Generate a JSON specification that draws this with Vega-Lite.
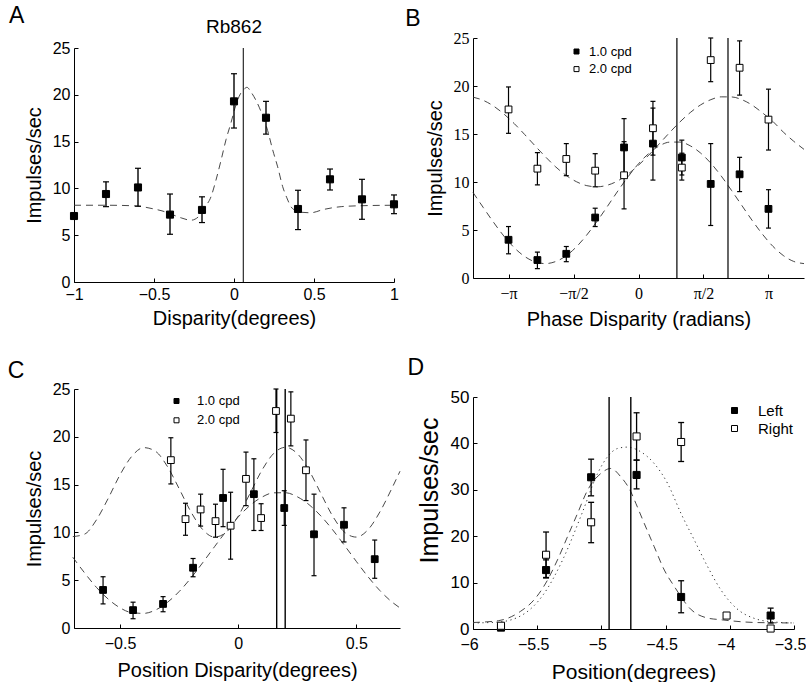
{
  "$schema": "https://vega.github.io/schema/vega-lite/v6.json",
  "background": "white",
  "padding": {"left": 7, "top": 5, "right": 0, "bottom": 0},
  "config": {
    "view": {"stroke": null},
    "axis": {"domainColor": "black", "domainWidth": 1, "tickColor": "black", "tickWidth": 1, "tickSize": -4, "labelPadding": 8, "labelColor": "black", "labelFont": "Liberation Sans", "labelFontSize": 16, "titleFont": "Liberation Sans", "titleFontSize": 20, "titleFontWeight": "normal", "titleColor": "black", "grid": false, "labelFlush": false, "labelOverlap": false},
    "axisX": {"titlePadding": 6},
    "axisY": {"titlePadding": 8},
    "text": {"font": "Liberation Sans", "color": "black"},
    "legend": {"labelFont": "Liberation Sans", "labelColor": "black", "padding": 0}
  },
  "datasets": {
    "one": [{"k": 1}],
    "a_pts": [
      {"x": -1, "y": 7.05, "lo": 7.05, "hi": 7.05},
      {"x": -0.8, "y": 9.4, "lo": 8.05, "hi": 10.7},
      {"x": -0.6, "y": 10.1, "lo": 8.1, "hi": 12.15},
      {"x": -0.4, "y": 7.2, "lo": 5.1, "hi": 9.4},
      {"x": -0.2, "y": 7.7, "lo": 6.35, "hi": 9.1},
      {"x": 0, "y": 19.3, "lo": 16.45, "hi": 22.25},
      {"x": 0.2, "y": 17.55, "lo": 15.8, "hi": 19.3},
      {"x": 0.4, "y": 7.8, "lo": 5.6, "hi": 9.8},
      {"x": 0.6, "y": 10.97, "lo": 9.83, "hi": 12.07},
      {"x": 0.8, "y": 8.83, "lo": 6.7, "hi": 10.97},
      {"x": 1, "y": 8.3, "lo": 7.3, "hi": 9.3}
    ],
    "a_fit": [
      {"x": -1, "y": 8.2}, {"x": -0.9, "y": 8.2}, {"x": -0.8, "y": 8.2}, {"x": -0.7, "y": 8.18}, {"x": -0.6, "y": 8.1},
      {"x": -0.5, "y": 7.8}, {"x": -0.45, "y": 7.6}, {"x": -0.4, "y": 7.3}, {"x": -0.33, "y": 6.85}, {"x": -0.27, "y": 6.6},
      {"x": -0.22, "y": 7.0}, {"x": -0.186, "y": 7.9}, {"x": -0.144, "y": 9.1}, {"x": -0.1125, "y": 10.9}, {"x": -0.081, "y": 13.0},
      {"x": -0.05, "y": 15.2}, {"x": -0.019, "y": 17.0}, {"x": 0.01, "y": 18.8}, {"x": 0.04, "y": 20.1}, {"x": 0.058, "y": 20.5},
      {"x": 0.081, "y": 20.8}, {"x": 0.106, "y": 20.3}, {"x": 0.1375, "y": 19.4}, {"x": 0.169, "y": 18.2}, {"x": 0.21, "y": 16.2},
      {"x": 0.242, "y": 14.1}, {"x": 0.273, "y": 12.3}, {"x": 0.304, "y": 10.2}, {"x": 0.33, "y": 9.0}, {"x": 0.356, "y": 8.05},
      {"x": 0.39, "y": 7.6}, {"x": 0.42, "y": 7.45}, {"x": 0.48, "y": 7.4}, {"x": 0.56, "y": 7.75}, {"x": 0.67, "y": 8.05},
      {"x": 0.8, "y": 8.15}, {"x": 1.0, "y": 8.2}
    ],
    "a_vl": [{"x": 0.058}],
    "b_pts": [
      {"s": "1.0 cpd", "x": -3.1416, "y": 3.98, "lo": 2.52, "hi": 5.36},
      {"s": "1.0 cpd", "x": -2.4435, "y": 1.87, "lo": 0.97, "hi": 2.7},
      {"s": "1.0 cpd", "x": -1.7453, "y": 2.52, "lo": 1.7, "hi": 3.28},
      {"s": "1.0 cpd", "x": -1.0472, "y": 6.3, "lo": 5.36, "hi": 7.27},
      {"s": "1.0 cpd", "x": -0.3491, "y": 13.6, "lo": 10.6, "hi": 16.6},
      {"s": "1.0 cpd", "x": 0.3491, "y": 14.0, "lo": 10.2, "hi": 17.7},
      {"s": "1.0 cpd", "x": 1.0472, "y": 12.55, "lo": 10.73, "hi": 14.36},
      {"s": "1.0 cpd", "x": 1.7453, "y": 9.8, "lo": 5.47, "hi": 14.0},
      {"s": "1.0 cpd", "x": 2.4435, "y": 10.8, "lo": 9.0, "hi": 12.57},
      {"s": "1.0 cpd", "x": 3.1416, "y": 7.2, "lo": 5.2, "hi": 9.2},
      {"s": "2.0 cpd", "x": -3.1416, "y": 17.56, "lo": 15.07, "hi": 19.9},
      {"s": "2.0 cpd", "x": -2.4435, "y": 11.39, "lo": 9.7, "hi": 13.05},
      {"s": "2.0 cpd", "x": -1.7453, "y": 12.4, "lo": 10.66, "hi": 14.0},
      {"s": "2.0 cpd", "x": -1.0472, "y": 11.18, "lo": 9.5, "hi": 12.95},
      {"s": "2.0 cpd", "x": -0.3491, "y": 10.7, "lo": 7.2, "hi": 14.2},
      {"s": "2.0 cpd", "x": 0.3491, "y": 15.6, "lo": 12.8, "hi": 18.4},
      {"s": "2.0 cpd", "x": 1.0472, "y": 11.5, "lo": 10.2, "hi": 13.0},
      {"s": "2.0 cpd", "x": 1.7453, "y": 22.7, "lo": 20.45, "hi": 25.0},
      {"s": "2.0 cpd", "x": 2.4435, "y": 21.9, "lo": 19.05, "hi": 24.7},
      {"s": "2.0 cpd", "x": 3.1416, "y": 16.5, "lo": 13.33, "hi": 19.67}
    ],
    "b_fit": [
      {"s": "1.0 cpd", "x": -4, "y": 8.91}, {"s": "1.0 cpd", "x": -3.75, "y": 7.33}, {"s": "1.0 cpd", "x": -3.5, "y": 5.78}, {"s": "1.0 cpd", "x": -3.25, "y": 4.35},
      {"s": "1.0 cpd", "x": -3, "y": 3.14}, {"s": "1.0 cpd", "x": -2.75, "y": 2.24}, {"s": "1.0 cpd", "x": -2.5, "y": 1.68}, {"s": "1.0 cpd", "x": -2.25, "y": 1.5},
      {"s": "1.0 cpd", "x": -2, "y": 1.72}, {"s": "1.0 cpd", "x": -1.75, "y": 2.31}, {"s": "1.0 cpd", "x": -1.5, "y": 3.25}, {"s": "1.0 cpd", "x": -1.25, "y": 4.48},
      {"s": "1.0 cpd", "x": -1, "y": 5.92}, {"s": "1.0 cpd", "x": -0.75, "y": 7.47}, {"s": "1.0 cpd", "x": -0.5, "y": 9.06}, {"s": "1.0 cpd", "x": -0.25, "y": 10.56},
      {"s": "1.0 cpd", "x": 0, "y": 11.9}, {"s": "1.0 cpd", "x": 0.25, "y": 12.98}, {"s": "1.0 cpd", "x": 0.5, "y": 13.75}, {"s": "1.0 cpd", "x": 0.75, "y": 14.15},
      {"s": "1.0 cpd", "x": 1, "y": 14.16}, {"s": "1.0 cpd", "x": 1.25, "y": 13.77}, {"s": "1.0 cpd", "x": 1.5, "y": 13.02}, {"s": "1.0 cpd", "x": 1.75, "y": 11.95},
      {"s": "1.0 cpd", "x": 2, "y": 10.62}, {"s": "1.0 cpd", "x": 2.25, "y": 9.11}, {"s": "1.0 cpd", "x": 2.5, "y": 7.54}, {"s": "1.0 cpd", "x": 2.75, "y": 5.98},
      {"s": "1.0 cpd", "x": 3, "y": 4.54}, {"s": "1.0 cpd", "x": 3.25, "y": 3.29}, {"s": "1.0 cpd", "x": 3.5, "y": 2.34}, {"s": "1.0 cpd", "x": 3.75, "y": 1.73},
      {"s": "1.0 cpd", "x": 4, "y": 1.5},
      {"s": "2.0 cpd", "x": -4, "y": 18.84}, {"s": "2.0 cpd", "x": -3.75, "y": 18.5}, {"s": "2.0 cpd", "x": -3.5, "y": 17.9}, {"s": "2.0 cpd", "x": -3.25, "y": 17.07},
      {"s": "2.0 cpd", "x": -3, "y": 16.07}, {"s": "2.0 cpd", "x": -2.75, "y": 14.94}, {"s": "2.0 cpd", "x": -2.5, "y": 13.77}, {"s": "2.0 cpd", "x": -2.25, "y": 12.63},
      {"s": "2.0 cpd", "x": -2, "y": 11.57}, {"s": "2.0 cpd", "x": -1.75, "y": 10.69}, {"s": "2.0 cpd", "x": -1.5, "y": 10.03}, {"s": "2.0 cpd", "x": -1.25, "y": 9.62},
      {"s": "2.0 cpd", "x": -1, "y": 9.5}, {"s": "2.0 cpd", "x": -0.75, "y": 9.67}, {"s": "2.0 cpd", "x": -0.5, "y": 10.12}, {"s": "2.0 cpd", "x": -0.25, "y": 10.83},
      {"s": "2.0 cpd", "x": 0, "y": 11.75}, {"s": "2.0 cpd", "x": 0.25, "y": 12.81}, {"s": "2.0 cpd", "x": 0.5, "y": 13.97}, {"s": "2.0 cpd", "x": 0.75, "y": 15.14},
      {"s": "2.0 cpd", "x": 1, "y": 16.25}, {"s": "2.0 cpd", "x": 1.25, "y": 17.23}, {"s": "2.0 cpd", "x": 1.5, "y": 18.03}, {"s": "2.0 cpd", "x": 1.75, "y": 18.58},
      {"s": "2.0 cpd", "x": 2, "y": 18.87}, {"s": "2.0 cpd", "x": 2.25, "y": 18.86}, {"s": "2.0 cpd", "x": 2.5, "y": 18.57}, {"s": "2.0 cpd", "x": 2.75, "y": 18.0},
      {"s": "2.0 cpd", "x": 3, "y": 17.19}, {"s": "2.0 cpd", "x": 3.25, "y": 16.3}, {"s": "2.0 cpd", "x": 3.5, "y": 15.2}, {"s": "2.0 cpd", "x": 3.75, "y": 14.25},
      {"s": "2.0 cpd", "x": 4, "y": 13.4}
    ],
    "b_vl": [{"x": 0.928}, {"x": 2.163}],
    "c_pts": [
      {"s": "1.0 cpd", "x": -0.572, "y": 3.98, "lo": 2.52, "hi": 5.36},
      {"s": "1.0 cpd", "x": -0.445, "y": 1.87, "lo": 0.97, "hi": 2.7},
      {"s": "1.0 cpd", "x": -0.318, "y": 2.52, "lo": 1.7, "hi": 3.28},
      {"s": "1.0 cpd", "x": -0.191, "y": 6.3, "lo": 5.36, "hi": 7.27},
      {"s": "1.0 cpd", "x": -0.064, "y": 13.6, "lo": 10.6, "hi": 16.6},
      {"s": "1.0 cpd", "x": 0.0665, "y": 14.0, "lo": 10.2, "hi": 17.7},
      {"s": "1.0 cpd", "x": 0.195, "y": 12.55, "lo": 10.73, "hi": 14.36},
      {"s": "1.0 cpd", "x": 0.321, "y": 9.8, "lo": 5.47, "hi": 14.0},
      {"s": "1.0 cpd", "x": 0.448, "y": 10.8, "lo": 9.0, "hi": 12.57},
      {"s": "1.0 cpd", "x": 0.578, "y": 7.2, "lo": 5.2, "hi": 9.2},
      {"s": "2.0 cpd", "x": -0.285, "y": 17.56, "lo": 15.07, "hi": 19.9},
      {"s": "2.0 cpd", "x": -0.223, "y": 11.39, "lo": 9.7, "hi": 13.05},
      {"s": "2.0 cpd", "x": -0.159, "y": 12.4, "lo": 10.66, "hi": 14.0},
      {"s": "2.0 cpd", "x": -0.096, "y": 11.18, "lo": 9.5, "hi": 12.95},
      {"s": "2.0 cpd", "x": -0.032, "y": 10.7, "lo": 7.2, "hi": 14.2},
      {"s": "2.0 cpd", "x": 0.033, "y": 15.6, "lo": 12.8, "hi": 18.4},
      {"s": "2.0 cpd", "x": 0.097, "y": 11.5, "lo": 10.2, "hi": 13.0},
      {"s": "2.0 cpd", "x": 0.160, "y": 22.7, "lo": 20.45, "hi": 25.0},
      {"s": "2.0 cpd", "x": 0.223, "y": 21.9, "lo": 19.05, "hi": 24.7},
      {"s": "2.0 cpd", "x": 0.287, "y": 16.5, "lo": 13.33, "hi": 19.67}
    ],
    "c_fit": [
      {"s": "1.0 cpd", "x": -0.7, "y": 7.4}, {"s": "1.0 cpd", "x": -0.65, "y": 5.76}, {"s": "1.0 cpd", "x": -0.6, "y": 4.25}, {"s": "1.0 cpd", "x": -0.55, "y": 3.02},
      {"s": "1.0 cpd", "x": -0.5, "y": 2.11}, {"s": "1.0 cpd", "x": -0.45, "y": 1.6}, {"s": "1.0 cpd", "x": -0.4, "y": 1.53}, {"s": "1.0 cpd", "x": -0.35, "y": 1.88},
      {"s": "1.0 cpd", "x": -0.3, "y": 2.67}, {"s": "1.0 cpd", "x": -0.25, "y": 3.81}, {"s": "1.0 cpd", "x": -0.2, "y": 5.23}, {"s": "1.0 cpd", "x": -0.15, "y": 6.84},
      {"s": "1.0 cpd", "x": -0.1, "y": 8.51}, {"s": "1.0 cpd", "x": -0.05, "y": 10.14}, {"s": "1.0 cpd", "x": 0, "y": 11.61}, {"s": "1.0 cpd", "x": 0.05, "y": 12.82},
      {"s": "1.0 cpd", "x": 0.1, "y": 13.68}, {"s": "1.0 cpd", "x": 0.15, "y": 14.14}, {"s": "1.0 cpd", "x": 0.2, "y": 14.15}, {"s": "1.0 cpd", "x": 0.25, "y": 13.73},
      {"s": "1.0 cpd", "x": 0.3, "y": 12.9}, {"s": "1.0 cpd", "x": 0.35, "y": 11.72}, {"s": "1.0 cpd", "x": 0.4, "y": 10.27}, {"s": "1.0 cpd", "x": 0.45, "y": 8.64},
      {"s": "1.0 cpd", "x": 0.5, "y": 6.97}, {"s": "1.0 cpd", "x": 0.55, "y": 5.35}, {"s": "1.0 cpd", "x": 0.6, "y": 3.91}, {"s": "1.0 cpd", "x": 0.65, "y": 2.74},
      {"s": "1.0 cpd", "x": 0.685, "y": 2.1},
      {"s": "2.0 cpd", "x": -0.7, "y": 9.56}, {"s": "2.0 cpd", "x": -0.65, "y": 9.82}, {"s": "2.0 cpd", "x": -0.6, "y": 11.31}, {"s": "2.0 cpd", "x": -0.55, "y": 13.57},
      {"s": "2.0 cpd", "x": -0.5, "y": 16.03}, {"s": "2.0 cpd", "x": -0.45, "y": 17.97}, {"s": "2.0 cpd", "x": -0.4, "y": 18.87}, {"s": "2.0 cpd", "x": -0.35, "y": 18.48},
      {"s": "2.0 cpd", "x": -0.3, "y": 16.91}, {"s": "2.0 cpd", "x": -0.25, "y": 14.58}, {"s": "2.0 cpd", "x": -0.2, "y": 12.15}, {"s": "2.0 cpd", "x": -0.15, "y": 10.29},
      {"s": "2.0 cpd", "x": -0.1, "y": 9.51}, {"s": "2.0 cpd", "x": -0.05, "y": 10.03}, {"s": "2.0 cpd", "x": 0, "y": 11.7}, {"s": "2.0 cpd", "x": 0.05, "y": 14.07},
      {"s": "2.0 cpd", "x": 0.1, "y": 16.48}, {"s": "2.0 cpd", "x": 0.15, "y": 18.25}, {"s": "2.0 cpd", "x": 0.2, "y": 18.9}, {"s": "2.0 cpd", "x": 0.25, "y": 18.25},
      {"s": "2.0 cpd", "x": 0.3, "y": 16.48}, {"s": "2.0 cpd", "x": 0.35, "y": 14.07}, {"s": "2.0 cpd", "x": 0.4, "y": 11.7}, {"s": "2.0 cpd", "x": 0.45, "y": 10.03},
      {"s": "2.0 cpd", "x": 0.5, "y": 9.51}, {"s": "2.0 cpd", "x": 0.55, "y": 10.29}, {"s": "2.0 cpd", "x": 0.6, "y": 12.15}, {"s": "2.0 cpd", "x": 0.65, "y": 14.58},
      {"s": "2.0 cpd", "x": 0.685, "y": 16.4}
    ],
    "c_vl": [{"x": 0.163}, {"x": 0.199}],
    "d_pts": [
      {"s": "Left", "x": -5.782, "y": 0.3, "lo": 0.3, "hi": 0.3},
      {"s": "Left", "x": -5.431, "y": 12.7, "lo": 11.0, "hi": 14.9},
      {"s": "Left", "x": -5.08, "y": 32.7, "lo": 28.7, "hi": 36.6},
      {"s": "Left", "x": -4.726, "y": 33.2, "lo": 30.2, "hi": 36.4},
      {"s": "Left", "x": -4.379, "y": 6.9, "lo": 3.5, "hi": 10.4},
      {"s": "Left", "x": -3.682, "y": 2.9, "lo": 1.3, "hi": 4.5},
      {"s": "Right", "x": -5.782, "y": 0.7, "lo": 0.7, "hi": 0.7},
      {"s": "Right", "x": -5.431, "y": 16.0, "lo": 11.1, "hi": 20.9},
      {"s": "Right", "x": -5.08, "y": 23.0, "lo": 18.6, "hi": 27.3},
      {"s": "Right", "x": -4.726, "y": 41.5, "lo": 36.4, "hi": 46.6},
      {"s": "Right", "x": -4.379, "y": 40.3, "lo": 36.1, "hi": 44.5},
      {"s": "Right", "x": -4.025, "y": 2.9, "lo": 2.9, "hi": 2.9},
      {"s": "Right", "x": -3.682, "y": 0.1, "lo": 0.1, "hi": 0.1}
    ],
    "d_fit_left": [
      {"x": -6, "y": 1.4}, {"x": -5.8, "y": 1.8}, {"x": -5.63, "y": 3.8}, {"x": -5.524, "y": 6.3}, {"x": -5.433, "y": 9.9},
      {"x": -5.342, "y": 14.9}, {"x": -5.264, "y": 19.9}, {"x": -5.186, "y": 24.9}, {"x": -5.108, "y": 29.9}, {"x": -5.005, "y": 33.5},
      {"x": -4.927, "y": 34.6}, {"x": -4.849, "y": 32.8}, {"x": -4.771, "y": 29.6}, {"x": -4.732, "y": 27.1}, {"x": -4.667, "y": 22.8},
      {"x": -4.589, "y": 17.75}, {"x": -4.51, "y": 12.7}, {"x": -4.433, "y": 9.2}, {"x": -4.3, "y": 4.15}, {"x": -4.173, "y": 2.36},
      {"x": -4.07, "y": 2.0}, {"x": -3.8, "y": 1.4}, {"x": -3.5, "y": 1.3}
    ],
    "d_fit_right": [
      {"x": -6, "y": 1.3}, {"x": -5.8, "y": 1.5}, {"x": -5.6, "y": 3.3}, {"x": -5.45, "y": 7.5}, {"x": -5.3, "y": 15.0},
      {"x": -5.15, "y": 25.0}, {"x": -5.03, "y": 33.5}, {"x": -4.95, "y": 37.2}, {"x": -4.875, "y": 38.9}, {"x": -4.8, "y": 39.2},
      {"x": -4.7, "y": 38.3}, {"x": -4.59, "y": 35.7}, {"x": -4.485, "y": 31.4}, {"x": -4.38, "y": 24.9}, {"x": -4.277, "y": 19.2},
      {"x": -4.173, "y": 13.45}, {"x": -4.07, "y": 8.45}, {"x": -3.95, "y": 4.5}, {"x": -3.8, "y": 2.2}, {"x": -3.65, "y": 1.5}, {"x": -3.5, "y": 1.3}
    ],
    "d_vl": [{"x": -4.94}, {"x": -4.771}]
  },
  "columns": 2,
  "spacing": {"row": 107, "column": 73},
  "bounds": "flush",
  "resolve": {"scale": {"fill": "independent"}, "legend": {"fill": "independent"}},
  "concat": [
    {
      "width": 320, "height": 244,
      "layer": [
        {"data": {"name": "a_fit"}, "mark": {"type": "line", "stroke": "#333333", "strokeWidth": 0.9, "strokeDash": [7, 5], "interpolate": "monotone"},
         "encoding": {
           "x": {"field": "x", "type": "quantitative", "scale": {"domain": [-1, 1], "nice": false}, "axis": {"values": [-1, -0.5, 0, 0.5, 1], "format": "~g", "title": "Disparity(degrees)"}},
           "y": {"field": "y", "type": "quantitative", "scale": {"domain": [0, 25], "nice": false, "range": [244, 10]}, "axis": {"values": [0, 5, 10, 15, 20, 25], "title": "Impulses/sec"}}}},
        {"data": {"name": "a_vl"}, "mark": {"type": "rule", "color": "black", "strokeWidth": 1},
         "encoding": {"x": {"field": "x", "type": "quantitative"}, "y": {"datum": 0}, "y2": {"datum": 25}}},
        {"data": {"name": "a_pts"}, "mark": {"type": "rule", "color": "black", "strokeWidth": 1.4},
         "encoding": {"x": {"field": "x", "type": "quantitative"}, "y": {"field": "lo", "type": "quantitative"}, "y2": {"field": "hi"}}},
        {"data": {"name": "a_pts"}, "mark": {"type": "tick", "orient": "horizontal", "color": "black", "size": 6, "thickness": 1.2, "opacity": 1},
         "encoding": {"x": {"field": "x", "type": "quantitative"}, "y": {"field": "lo", "type": "quantitative"}}},
        {"data": {"name": "a_pts"}, "mark": {"type": "tick", "orient": "horizontal", "color": "black", "size": 6, "thickness": 1.2, "opacity": 1},
         "encoding": {"x": {"field": "x", "type": "quantitative"}, "y": {"field": "hi", "type": "quantitative"}}},
        {"data": {"name": "a_pts"}, "mark": {"type": "point", "shape": "square", "filled": true, "fill": "black", "stroke": "black", "strokeWidth": 1, "size": 50, "opacity": 1},
         "encoding": {"x": {"field": "x", "type": "quantitative"}, "y": {"field": "y", "type": "quantitative"}}},
        {"data": {"name": "one"}, "mark": {"type": "text", "fontSize": 23, "align": "left", "baseline": "alphabetic"},
         "encoding": {"x": {"datum": -1.406}, "y": {"datum": 27.64}, "text": {"value": "A"}}},
        {"data": {"name": "one"}, "mark": {"type": "text", "fontSize": 19, "align": "center", "baseline": "alphabetic"},
         "encoding": {"x": {"datum": 0}, "y": {"datum": 26.57}, "text": {"value": "Rb862"}}}
      ]
    },
    {
      "width": 331, "height": 240,
      "layer": [
        {"data": {"name": "b_fit"}, "mark": {"type": "line", "stroke": "#333333", "strokeWidth": 0.9, "strokeDash": [7, 5], "interpolate": "monotone"},
         "encoding": {
           "x": {"field": "x", "type": "quantitative", "scale": {"domain": [-4, 4], "nice": false}, "axis": {"values": [-3.14159, -1.5708, 0, 1.5708, 3.14159], "labelExpr": "datum.value < -3 ? '−π' : datum.value < -1 ? '−π/2' : datum.value < 1 ? '0' : datum.value < 3 ? 'π/2' : 'π'", "labelFont": "Liberation Serif", "labelFontSize": 16, "labelPadding": 11, "titlePadding": 8, "title": "Phase Disparity (radians)"}},
           "y": {"field": "y", "type": "quantitative", "scale": {"domain": [0, 25], "nice": false}, "axis": {"values": [0, 5, 10, 15, 20, 25], "labelFont": "Liberation Serif", "labelFontSize": 16, "title": "Impulses/sec"}},
           "detail": {"field": "s", "type": "nominal"}}},
        {"data": {"name": "b_vl"}, "mark": {"type": "rule", "color": "black", "strokeWidth": 1.2},
         "encoding": {"x": {"field": "x", "type": "quantitative"}, "y": {"datum": 0}, "y2": {"datum": 25}}},
        {"data": {"name": "b_pts"}, "mark": {"type": "rule", "color": "black", "strokeWidth": 1.2},
         "encoding": {"x": {"field": "x", "type": "quantitative"}, "y": {"field": "lo", "type": "quantitative"}, "y2": {"field": "hi"}}},
        {"data": {"name": "b_pts"}, "mark": {"type": "tick", "orient": "horizontal", "color": "black", "size": 5, "thickness": 1.2, "opacity": 1},
         "encoding": {"x": {"field": "x", "type": "quantitative"}, "y": {"field": "lo", "type": "quantitative"}}},
        {"data": {"name": "b_pts"}, "mark": {"type": "tick", "orient": "horizontal", "color": "black", "size": 5, "thickness": 1.2, "opacity": 1},
         "encoding": {"x": {"field": "x", "type": "quantitative"}, "y": {"field": "hi", "type": "quantitative"}}},
        {"data": {"name": "b_pts"}, "mark": {"type": "point", "shape": "square", "filled": true, "stroke": "black", "strokeWidth": 1, "size": 46, "opacity": 1},
         "encoding": {"x": {"field": "x", "type": "quantitative"}, "y": {"field": "y", "type": "quantitative"},
           "fill": {"field": "s", "type": "nominal", "scale": {"domain": ["1.0 cpd", "2.0 cpd"], "range": ["black", "white"]},
             "legend": {"orient": "none", "legendX": 97, "legendY": 7, "title": null, "symbolType": "square", "symbolSize": 25, "symbolStrokeColor": "black", "symbolStrokeWidth": 1, "symbolOpacity": 1, "labelFontSize": 13, "labelOffset": 6, "rowPadding": 3.6, "padding": 0}}}},
        {"data": {"name": "one"}, "mark": {"type": "text", "fontSize": 23, "align": "left", "baseline": "alphabetic"},
         "encoding": {"x": {"datum": -5.64}, "y": {"datum": 26.25}, "text": {"value": "B"}}}
      ]
    },
    {
      "width": 326, "height": 239,
      "layer": [
        {"data": {"name": "c_fit"}, "mark": {"type": "line", "stroke": "#333333", "strokeWidth": 0.9, "strokeDash": [7, 5], "interpolate": "monotone"},
         "encoding": {
           "x": {"field": "x", "type": "quantitative", "scale": {"domain": [-0.695, 0.685], "nice": false}, "axis": {"values": [-0.5, 0, 0.5], "format": "~g", "labelPadding": 11, "titlePadding": 9, "title": "Position Disparity(degrees)"}},
           "y": {"field": "y", "type": "quantitative", "scale": {"domain": [0, 25], "nice": false}, "axis": {"values": [0, 5, 10, 15, 20, 25], "title": "Impulses/sec"}},
           "detail": {"field": "s", "type": "nominal"}}},
        {"data": {"name": "c_vl"}, "mark": {"type": "rule", "color": "black", "strokeWidth": 1.4},
         "encoding": {"x": {"field": "x", "type": "quantitative"}, "y": {"datum": 0}, "y2": {"datum": 25}}},
        {"data": {"name": "c_pts"}, "mark": {"type": "rule", "color": "black", "strokeWidth": 1.2},
         "encoding": {"x": {"field": "x", "type": "quantitative"}, "y": {"field": "lo", "type": "quantitative"}, "y2": {"field": "hi"}}},
        {"data": {"name": "c_pts"}, "mark": {"type": "tick", "orient": "horizontal", "color": "black", "size": 5, "thickness": 1.2, "opacity": 1},
         "encoding": {"x": {"field": "x", "type": "quantitative"}, "y": {"field": "lo", "type": "quantitative"}}},
        {"data": {"name": "c_pts"}, "mark": {"type": "tick", "orient": "horizontal", "color": "black", "size": 5, "thickness": 1.2, "opacity": 1},
         "encoding": {"x": {"field": "x", "type": "quantitative"}, "y": {"field": "hi", "type": "quantitative"}}},
        {"data": {"name": "c_pts"}, "mark": {"type": "point", "shape": "square", "filled": true, "stroke": "black", "strokeWidth": 1, "size": 46, "opacity": 1},
         "encoding": {"x": {"field": "x", "type": "quantitative"}, "y": {"field": "y", "type": "quantitative"},
           "fill": {"field": "s", "type": "nominal", "scale": {"domain": ["1.0 cpd", "2.0 cpd"], "range": ["black", "white"]},
             "legend": {"orient": "none", "legendX": 96, "legendY": 5.5, "title": null, "symbolType": "square", "symbolSize": 25, "symbolStrokeColor": "black", "symbolStrokeWidth": 1, "symbolOpacity": 1, "labelFontSize": 13, "labelOffset": 14, "rowPadding": 5.3, "padding": 0}}}},
        {"data": {"name": "one"}, "mark": {"type": "text", "fontSize": 23, "align": "left", "baseline": "alphabetic"},
         "encoding": {"x": {"datum": -0.975}, "y": {"datum": 26.15}, "text": {"value": "C"}}}
      ]
    },
    {
      "width": 321, "height": 240,
      "layer": [
        {"data": {"name": "d_fit_left"}, "mark": {"type": "line", "stroke": "#333333", "strokeWidth": 0.9, "strokeDash": [7, 5], "interpolate": "monotone"},
         "encoding": {
           "x": {"field": "x", "type": "quantitative", "scale": {"domain": [-6, -3.5], "nice": false}, "axis": {"values": [-6, -5.5, -5, -4.5, -4, -3.5], "format": "~g", "labelFontSize": 16, "labelOffset": -4, "labelPadding": 11, "titleFontSize": 21, "titlePadding": 9, "title": "Position(degrees)"}},
           "y": {"field": "y", "type": "quantitative", "scale": {"domain": [0, 50], "nice": false, "range": [240, 8]}, "axis": {"values": [0, 10, 20, 30, 40, 50], "labelFontSize": 17, "titleFontSize": 25, "titleY": 101, "title": "Impulses/sec"}}}},
        {"data": {"name": "d_fit_right"}, "mark": {"type": "line", "stroke": "#333333", "strokeWidth": 1, "strokeDash": [1.2, 3.5], "interpolate": "monotone"},
         "encoding": {"x": {"field": "x", "type": "quantitative"}, "y": {"field": "y", "type": "quantitative"}}},
        {"data": {"name": "d_vl"}, "mark": {"type": "rule", "color": "black", "strokeWidth": 1.4},
         "encoding": {"x": {"field": "x", "type": "quantitative"}, "y": {"datum": 0}, "y2": {"datum": 50}}},
        {"data": {"name": "d_pts"}, "mark": {"type": "rule", "color": "black", "strokeWidth": 1.3},
         "encoding": {"x": {"field": "x", "type": "quantitative"}, "y": {"field": "lo", "type": "quantitative"}, "y2": {"field": "hi"}}},
        {"data": {"name": "d_pts"}, "mark": {"type": "tick", "orient": "horizontal", "color": "black", "size": 6, "thickness": 1.3, "opacity": 1},
         "encoding": {"x": {"field": "x", "type": "quantitative"}, "y": {"field": "lo", "type": "quantitative"}}},
        {"data": {"name": "d_pts"}, "mark": {"type": "tick", "orient": "horizontal", "color": "black", "size": 6, "thickness": 1.3, "opacity": 1},
         "encoding": {"x": {"field": "x", "type": "quantitative"}, "y": {"field": "hi", "type": "quantitative"}}},
        {"data": {"name": "d_pts"}, "mark": {"type": "point", "shape": "square", "filled": true, "stroke": "black", "strokeWidth": 1, "size": 50, "opacity": 1},
         "encoding": {"x": {"field": "x", "type": "quantitative"}, "y": {"field": "y", "type": "quantitative"},
           "fill": {"field": "s", "type": "nominal", "scale": {"domain": ["Left", "Right"], "range": ["black", "white"]},
             "legend": {"orient": "none", "legendX": 254, "legendY": 14, "title": null, "symbolType": "square", "symbolSize": 36, "symbolStrokeColor": "black", "symbolStrokeWidth": 1, "symbolOpacity": 1, "labelFontSize": 15, "labelOffset": 16, "rowPadding": 2, "padding": 0}}}},
        {"data": {"name": "one"}, "mark": {"type": "text", "fontSize": 23, "align": "left", "baseline": "alphabetic"},
         "encoding": {"x": {"datum": -6.51}, "y": {"datum": 54.74}, "text": {"value": "D"}}}
      ]
    }
  ]
}
